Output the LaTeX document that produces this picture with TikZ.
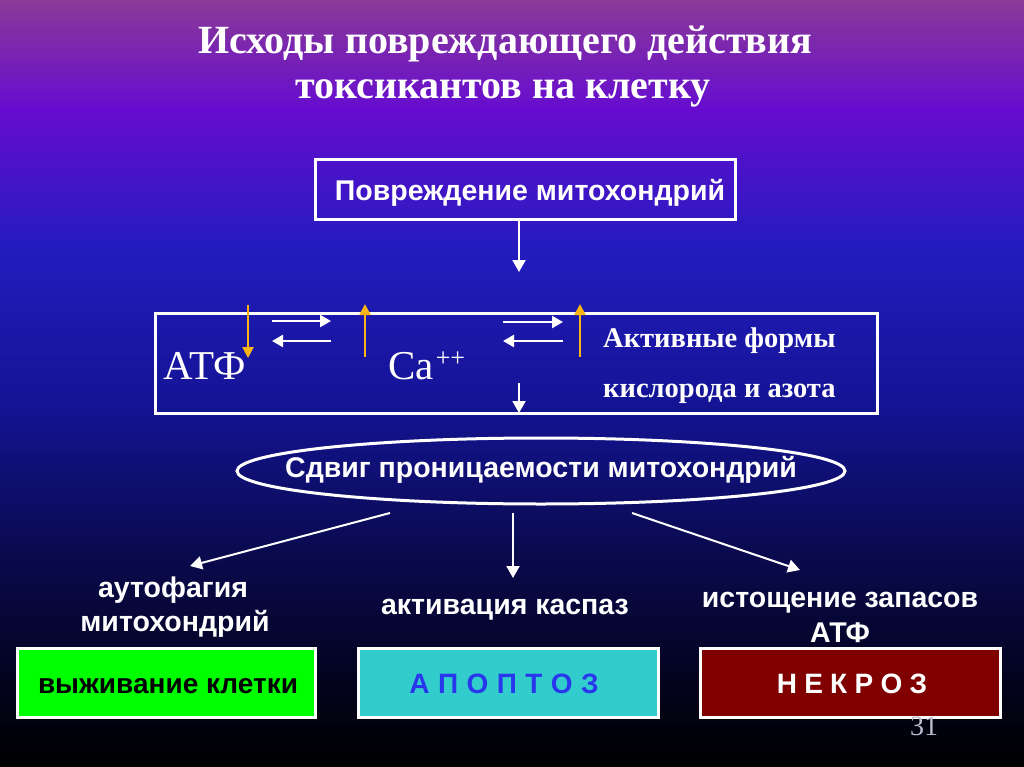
\documentclass[tikz,border=0pt]{standalone}
\usepackage{fontspec}
\setmainfont{Liberation Serif}
\newfontfamily\sansf{Liberation Sans}
\usetikzlibrary{arrows.meta,shapes.geometric}
\definecolor{bg0}{RGB}{138,58,150}
\definecolor{bg1}{RGB}{102,12,208}
\definecolor{bg2}{RGB}{35,28,190}
\definecolor{bg3}{RGB}{20,20,150}
\definecolor{bg4}{RGB}{10,10,80}
\definecolor{bg5}{RGB}{3,3,30}
\definecolor{orangeA}{RGB}{250,180,20}
\definecolor{greenbox}{RGB}{0,255,0}
\definecolor{cyanbox}{RGB}{51,204,204}
\definecolor{redbox}{RGB}{128,0,0}
\definecolor{bluetext}{RGB}{40,55,235}
\definecolor{pagenum}{RGB}{190,190,210}
\pgfdeclareverticalshading{bgshade}{100bp}{color(0bp)=(black); color(25bp)=(black); color(30.67bp)=(bg5); color(39.15bp)=(bg4); color(48.92bp)=(bg3); color(58.70bp)=(bg2); color(67.83bp)=(bg1); color(75bp)=(bg0); color(100bp)=(bg0)}
\tikzset{
  frame/.style={draw=white, line width=3pt, rectangle, inner sep=0pt},
  warrow/.style={draw=white, line width=2.5pt, -{Triangle[length=11pt,width=12pt]}},
  thinarrow/.style={draw=white, line width=2pt, -{Triangle[length=12pt,width=13pt]}},
  oarrow/.style={draw=orangeA, line width=2.5pt, -{Triangle[length=11pt,width=11pt]}},
  titlefont/.style={font=\fontsize{40}{42}\selectfont\bfseries, text=white, anchor=base, inner sep=0pt},
  sanslabel/.style={font=\sansf\fontsize{28.5}{30}\selectfont\bfseries, text=white, anchor=base, inner sep=0pt},
  serifbig/.style={font=\fontsize{41}{42}\selectfont, text=white, anchor=base west, inner sep=0pt},
  serifmid/.style={font=\fontsize{28.5}{30}\selectfont\bfseries, text=white, anchor=base west, inner sep=0pt},
  resbox/.style={frame, minimum width=300pt, minimum height=69pt},
  restext/.style={font=\sansf\fontsize{28}{30}\selectfont\bfseries, anchor=base, inner sep=0pt}
}
\begin{document}
\begin{tikzpicture}[x=1pt,y=-1pt]
\useasboundingbox (0,0) rectangle (1024,767);
\shade[shading=bgshade] (0,0) rectangle (1024,767);

% title
\node[titlefont] (t1) at (505,54) {Исходы повреждающего действия};
\node[titlefont] (t2) at (503,99) {токсикантов на клетку};

% top box
\node[frame, minimum width=420pt, minimum height=60pt] (b1) at (525,190) {};
\node[sanslabel] (b1t) at (530,201) {Повреждение митохондрий};
\coordinate (c1) at (519,272);
\draw[thinarrow] (b1.south -| c1) -- (c1);

% middle box
\node[frame, minimum width=722pt, minimum height=100pt] (b2) at (516,363) {};
\node[serifbig] (atf) at (163,379) {АТФ};
\node[serifbig] (ca) at (388,379) {Са\kern2pt\raisebox{0.3em}{\fontsize{26}{26}\selectfont ++}};
\node[serifmid] (af1) at (603,347) {Активные формы};
\node[serifmid] (af2) at (603,397) {кислорода и азота};

% orange arrows
\coordinate (o1a) at (248,305); \coordinate (o1b) at (248,358);
\coordinate (o2a) at (365,357); \coordinate (o2b) at (365,304);
\coordinate (o3a) at (580,357); \coordinate (o3b) at (580,304);
\draw[oarrow] (o1a) -- (o1b);
\draw[oarrow] (o2a) -- (o2b);
\draw[oarrow] (o3a) -- (o3b);

% equilibrium arrows
\coordinate (e1l) at (272,321); \coordinate (e1r) at (331,321);
\coordinate (e2l) at (272,341); \coordinate (e2r) at (331,341);
\coordinate (e3l) at (503,322); \coordinate (e3r) at (563,322);
\coordinate (e4l) at (503,341); \coordinate (e4r) at (563,341);
\draw[warrow] (e1l) -- (e1r);
\draw[warrow] (e2r) -- (e2l);
\draw[warrow] (e3l) -- (e3r);
\draw[warrow] (e4r) -- (e4l);

% down arrow into ellipse
\coordinate (d1) at (519,383);
\coordinate (d2) at (519,413);
\draw[thinarrow] (d1) -- (d2);

% ellipse
\node[draw=white, line width=3pt, ellipse, minimum width=608pt, minimum height=66pt, inner sep=0pt] (el) at (541,471) {};
\node[sanslabel] (elt) at (541,477) {Сдвиг проницаемости митохондрий};

% outcome labels
\node[sanslabel] (l1a) at (173,597) {аутофагия};
\node[sanslabel] (l1b) at (175,631) {митохондрий};
\node[sanslabel] (l2) at (505,614) {активация каспаз};
\node[sanslabel] (l3a) at (840,607) {истощение запасов};
\node[sanslabel] (l3b) at (840,642) {АТФ};

\coordinate (s1) at (390,513); \coordinate (a1) at (190,566);
\coordinate (s2) at (513,513); \coordinate (a2) at (513,578);
\coordinate (s3) at (632,513); \coordinate (a3) at (800,570);
\draw[thinarrow] (s1) -- (a1);
\draw[thinarrow] (s2) -- (a2);
\draw[thinarrow] (s3) -- (a3);

% result boxes
\node[resbox, fill=greenbox, minimum width=298pt] (r1) at (166,682.5) {};
\node[resbox, fill=cyanbox] (r2) at (508,682.5) {};
\node[resbox, fill=redbox] (r3) at (850,682.5) {};
\node[restext, text=black] (r1t) at (168,693) {выживание клетки};
\node[restext, text=bluetext] (r2t) at (504,693) {А\hspace{0.3em}П\hspace{0.3em}О\hspace{0.3em}П\hspace{0.3em}Т\hspace{0.3em}О\hspace{0.3em}З};
\node[restext, text=white] (r3t) at (852,693) {Н\hspace{0.26em}Е\hspace{0.26em}К\hspace{0.26em}Р\hspace{0.26em}О\hspace{0.26em}З};

\node[font=\fontsize{28}{30}\selectfont, text=pagenum, anchor=base, inner sep=0pt] (pn) at (924,735) {31};
\end{tikzpicture}
\end{document}
